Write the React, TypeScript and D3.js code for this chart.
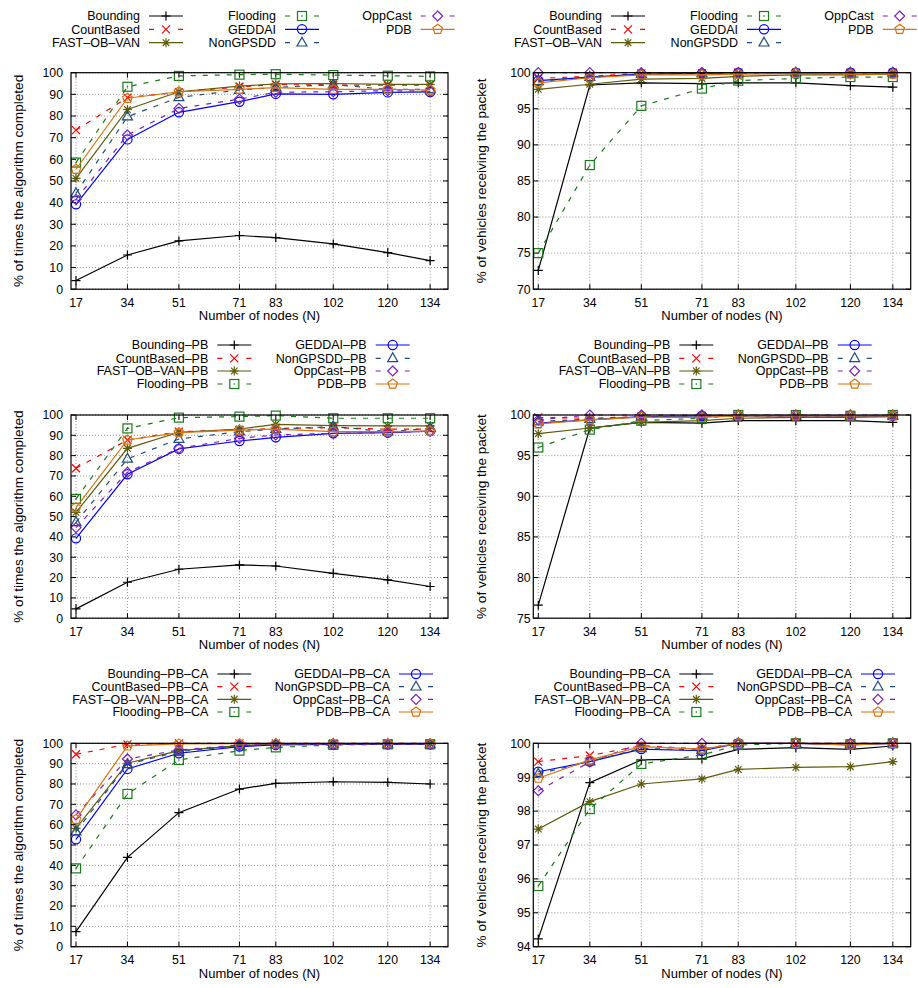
import React from "react";
import * as d3 from "d3";

const NODES = [17, 34, 51, 71, 83, 102, 120, 134];
const BASE_NAMES = ["Bounding", "CountBased", "FAST–OB–VAN", "Flooding", "GEDDAI", "NonGPSDD", "OppCast", "PDB"];
const SUFFIXES = ["", "–PB", "–PB–CA"];
const COLORS = ["#000000", "#ff0000", "#5c5c0a", "#1b7a1b", "#0000ff", "#1d4e7a", "#7a1fbf", "#d9730d"];
const DASHED = [false, true, false, true, false, true, true, false];
const MARKERS = ["plus", "cross", "star", "square", "circle", "triangle", "diamond", "pentagon"];

const Y_TICKS_COMPLETED = [0, 10, 20, 30, 40, 50, 60, 70, 80, 90, 100];
const Y_TICKS_RECV_BASE = [70, 75, 80, 85, 90, 95, 100];
const Y_TICKS_RECV_PB = [75, 80, 85, 90, 95, 100];
const Y_TICKS_RECV_PBCA = [94, 95, 96, 97, 98, 99, 100];

const completedBase = [
  [4.0, 15.8, 22.3, 24.8, 23.8, 20.9, 16.9, 13.2],
  [73.5, 88.5, 91.0, 93.5, 94.5, 94.3, 94.2, 94.3],
  [51.2, 83.0, 91.2, 93.8, 94.8, 95.0, 94.6, 94.6],
  [58.5, 93.5, 98.5, 99.1, 99.3, 98.9, 98.6, 98.3],
  [39.2, 69.2, 81.7, 86.6, 90.2, 90.0, 90.9, 91.1],
  [44.3, 79.7, 88.6, 92.0, 93.2, 94.5, 92.3, 92.3],
  [41.5, 71.2, 83.5, 87.8, 91.0, 91.2, 91.7, 91.5],
  [55.4, 88.2, 91.2, 92.3, 93.1, 92.3, 92.3, 92.0],
];
const receivedBase = [
  [72.6, 98.3, 98.6, 98.5, 98.6, 98.6, 98.2, 98.0],
  [99.2, 99.5, 99.9, 99.9, 100, 100, 100, 100],
  [97.7, 98.4, 99.1, 99.2, 99.5, 99.7, 99.7, 99.8],
  [75.0, 87.2, 95.4, 97.8, 98.9, 99.2, 99.4, 99.4],
  [98.9, 99.4, 99.8, 99.9, 100, 100, 100, 100],
  [98.8, 99.4, 99.8, 99.9, 99.9, 100, 100, 100],
  [100, 100, 100, 100, 100, 100, 100, 100],
  [98.6, 99.3, 99.7, 99.7, 99.8, 99.9, 99.8, 99.8],
];
const completedPB = [
  [4.6, 17.7, 24.1, 26.2, 25.7, 22.1, 18.9, 15.6],
  [73.8, 87.7, 91.8, 92.6, 93.4, 93.8, 93.0, 93.0],
  [52.1, 83.6, 91.5, 93.1, 95.4, 94.8, 94.6, 94.6],
  [58.7, 93.4, 98.7, 99.2, 99.7, 98.4, 98.4, 98.4],
  [39.3, 70.8, 83.3, 87.2, 89.0, 91.0, 91.3, 92.1],
  [47.2, 78.4, 88.2, 91.8, 93.0, 94.3, 91.8, 93.4],
  [44.6, 71.8, 83.6, 88.5, 90.2, 91.0, 91.3, 92.1],
  [54.4, 87.7, 91.3, 92.6, 93.0, 91.8, 91.8, 92.1],
];
const receivedPB = [
  [76.6, 98.4, 99.1, 99.0, 99.3, 99.3, 99.3, 99.1],
  [99.7, 99.6, 99.8, 99.9, 99.9, 99.9, 99.9, 99.9],
  [97.7, 98.4, 99.1, 99.3, 99.6, 99.7, 99.7, 99.8],
  [96.0, 98.2, 99.3, 99.6, 100, 100, 99.9, 100],
  [99.0, 99.4, 99.8, 99.9, 99.9, 99.9, 99.9, 99.9],
  [99.2, 99.5, 99.8, 99.9, 99.9, 99.9, 99.9, 99.9],
  [99.4, 100, 100, 100, 100, 100, 100, 100],
  [98.9, 99.4, 99.75, 99.7, 99.9, 99.9, 99.9, 99.9],
];
const completedPBCA = [
  [7.4, 43.9, 65.9, 77.5, 80.3, 81.1, 80.8, 80.0],
  [94.6, 99.5, 100, 100, 100, 100, 100, 100],
  [58.2, 90.2, 96.4, 98.9, 99.7, 99.8, 99.8, 99.8],
  [38.5, 75.1, 91.8, 96.4, 98.0, 99.2, 99.5, 99.5],
  [52.8, 87.4, 95.1, 98.4, 99.2, 99.5, 99.5, 99.5],
  [56.6, 89.7, 95.9, 98.9, 99.5, 99.5, 99.5, 99.5],
  [64.8, 92.3, 96.7, 99.2, 99.7, 99.7, 99.7, 99.7],
  [62.6, 98.7, 99.7, 99.8, 99.8, 99.8, 99.8, 99.8],
];
const receivedPBCA = [
  [94.23, 98.84, 99.51, 99.54, 99.82, 99.87, 99.82, 99.92],
  [99.46, 99.64, 99.93, 99.83, 100, 100, 100, 100],
  [97.47, 98.28, 98.8, 98.95, 99.23, 99.29, 99.31, 99.46],
  [95.79, 98.06, 99.39, 99.66, 99.95, 100, 99.97, 100],
  [99.16, 99.46, 99.83, 99.78, 100, 100, 99.95, 100],
  [99.1, 99.46, 99.85, 99.8, 100, 100, 99.97, 100],
  [98.6, 99.45, 100, 100, 100, 100, 100, 100],
  [98.97, 99.51, 99.9, 99.83, 100, 100, 99.95, 100],
];

const FONT = "'Liberation Sans', Arial, Helvetica, sans-serif";
const X_TITLE = "Number of nodes (N)";
const Y_TITLE_LEFT = "% of times the algorithm completed";
const Y_TITLE_RIGHT = "% of vehicles receiving the packet";

const ROWS = [
  { top: 72.7, bottom: 289.2, legendCols: [140, 276, 411.7], legendRows: [16, 29.3, 42.7] },
  { top: 415, bottom: 618.2, legendCols: [208.3, 366.7], legendRows: [345, 358.3, 371, 384] },
  { top: 743.3, bottom: 946.7, legendCols: [208.3, 390], legendRows: [674, 686.7, 699.3, 712] },
];
const COLS = [
  { x0: 71, x1: 448, labelGap: 8, titleX: 18.5, legendShift: 0 },
  { x0: 533.3, x1: 910.7, labelGap: 2.6, titleX: 481, legendShift: 462 },
];

function Marker({ type, x, y, color }: { type: string; x: number; y: number; color: string }) {
  const common = { stroke: color, strokeWidth: 1.2, fill: "none" };
  const s = 4.5;
  switch (type) {
    case "plus":
      return <path d={`M${x - s},${y}H${x + s}M${x},${y - s}V${y + s}`} {...common} />;
    case "cross":
      return <path d={`M${x - 4},${y - 4}L${x + 4},${y + 4}M${x + 4},${y - 4}L${x - 4},${y + 4}`} {...common} />;
    case "star":
      return (
        <path
          d={`M${x - s},${y}H${x + s}M${x},${y - s}V${y + s}M${x - 3.3},${y - 3.3}L${x + 3.3},${y + 3.3}M${x + 3.3},${y - 3.3}L${x - 3.3},${y + 3.3}`}
          {...common}
        />
      );
    case "square":
      return (
        <g>
          <rect x={x - s} y={y - s} width={2 * s} height={2 * s} {...common} />
          <circle cx={x} cy={y} r={0.8} fill={color} />
        </g>
      );
    case "circle":
      return <circle cx={x} cy={y} r={4.6} {...common} />;
    case "triangle":
      return <path d={`M${x},${y - 5.5}L${x + 5},${y + 3.3}L${x - 5},${y + 3.3}Z`} {...common} />;
    case "diamond":
      return <path d={`M${x},${y - 5}L${x + 5},${y}L${x},${y + 5}L${x - 5},${y}Z`} {...common} />;
    case "pentagon": {
      const pts = d3.range(5).map((k) => {
        const a = (-90 + 72 * k) * (Math.PI / 180);
        return `${x + 5 * Math.cos(a)},${y + 5 * Math.sin(a)}`;
      });
      return <path d={`M${pts.join("L")}Z`} {...common} />;
    }
    default:
      return null;
  }
}

function Panel({ data, rowIdx, colIdx, yTicks, yTitle, suffix }: any) {
  const row = ROWS[rowIdx];
  const col = COLS[colIdx];
  const x = d3.scaleLinear().domain([15.35, 139.9]).range([col.x0, col.x1]);
  const y = d3.scaleLinear().domain([yTicks[0], yTicks[yTicks.length - 1]]).range([row.bottom, row.top]);
  const line = d3
    .line<number>()
    .x((_, i) => x(NODES[i]))
    .y((d) => y(d));
  const tick = 5;
  const midY = (row.top + row.bottom) / 2;
  const nPerCol = row.legendRows.length;

  return (
    <g>
      {NODES.map((n) => (
        <line key={"gx" + n} x1={x(n)} x2={x(n)} y1={row.top} y2={row.bottom} stroke="#8a8a8a" strokeWidth={0.9} strokeDasharray="1,2" />
      ))}
      {yTicks.map((t: number) => (
        <line key={"gy" + t} x1={col.x0} x2={col.x1} y1={y(t)} y2={y(t)} stroke="#8a8a8a" strokeWidth={0.9} strokeDasharray="1,2" />
      ))}
      {NODES.map((n) => (
        <g key={"tx" + n}>
          <line x1={x(n)} x2={x(n)} y1={row.bottom} y2={row.bottom - tick} stroke="#000" strokeWidth={1} />
          <line x1={x(n)} x2={x(n)} y1={row.top} y2={row.top + tick} stroke="#000" strokeWidth={1} />
          <text x={x(n)} y={row.bottom + 17.5} textAnchor="middle" fontSize={12.3} fontFamily={FONT}>
            {n}
          </text>
        </g>
      ))}
      {yTicks.map((t: number) => (
        <g key={"ty" + t}>
          <line x1={col.x0} x2={col.x0 + tick} y1={y(t)} y2={y(t)} stroke="#000" strokeWidth={1} />
          <line x1={col.x1} x2={col.x1 - tick} y1={y(t)} y2={y(t)} stroke="#000" strokeWidth={1} />
          <text x={col.x0 - col.labelGap} y={y(t)} dy="0.35em" textAnchor="end" fontSize={12.3} fontFamily={FONT}>
            {t}
          </text>
        </g>
      ))}
      {data.map((vals: number[], si: number) => (
        <g key={"s" + si}>
          <path
            d={line(vals) || ""}
            fill="none"
            stroke={COLORS[si]}
            strokeWidth={1.2}
            strokeDasharray={DASHED[si] ? "5,7" : undefined}
          />
          {vals.map((v, i) => (
            <Marker key={i} type={MARKERS[si]} x={x(NODES[i])} y={y(v)} color={COLORS[si]} />
          ))}
        </g>
      ))}
      <rect x={col.x0} y={row.top} width={col.x1 - col.x0} height={row.bottom - row.top} fill="none" stroke="#000" strokeWidth={1.2} />
      <text x={(col.x0 + col.x1) / 2} y={row.bottom + 31} textAnchor="middle" fontSize={13} fontFamily={FONT}>
        {X_TITLE}
      </text>
      <text
        transform={`translate(${col.titleX},${midY}) rotate(-90)`}
        dy="0.35em"
        textAnchor="middle"
        fontSize={13.6}
        fontFamily={FONT}
      >
        {yTitle}
      </text>
      {BASE_NAMES.map((name, si) => {
        const c = Math.floor(si / nPerCol);
        const r = si % nPerCol;
        const tx = row.legendCols[c] + col.legendShift;
        const ly = row.legendRows[r];
        const sx0 = tx + 9;
        const sx1 = sx0 + 34;
        return (
          <g key={"lg" + si}>
            <text x={tx} y={ly} dy="0.35em" textAnchor="end" fontSize={12.5} fontFamily={FONT}>
              {name + suffix}
            </text>
            {DASHED[si] ? (
              <path d={`M${sx0},${ly}H${sx0 + 5}M${sx1 - 5},${ly}H${sx1}`} stroke={COLORS[si]} strokeWidth={1.2} />
            ) : (
              <line x1={sx0} x2={sx1} y1={ly} y2={ly} stroke={COLORS[si]} strokeWidth={1.2} />
            )}
            <Marker type={MARKERS[si]} x={(sx0 + sx1) / 2} y={ly} color={COLORS[si]} />
          </g>
        );
      })}
    </g>
  );
}

export default function App() {
  return (
    <svg width={918} height={988} style={{ position: "absolute", left: 0, top: 0, background: "#fff" }}>
      <rect width={918} height={988} fill="#fff" />
      <Panel data={completedBase} rowIdx={0} colIdx={0} yTicks={Y_TICKS_COMPLETED} yTitle={Y_TITLE_LEFT} suffix={SUFFIXES[0]} />
      <Panel data={receivedBase} rowIdx={0} colIdx={1} yTicks={Y_TICKS_RECV_BASE} yTitle={Y_TITLE_RIGHT} suffix={SUFFIXES[0]} />
      <Panel data={completedPB} rowIdx={1} colIdx={0} yTicks={Y_TICKS_COMPLETED} yTitle={Y_TITLE_LEFT} suffix={SUFFIXES[1]} />
      <Panel data={receivedPB} rowIdx={1} colIdx={1} yTicks={Y_TICKS_RECV_PB} yTitle={Y_TITLE_RIGHT} suffix={SUFFIXES[1]} />
      <Panel data={completedPBCA} rowIdx={2} colIdx={0} yTicks={Y_TICKS_COMPLETED} yTitle={Y_TITLE_LEFT} suffix={SUFFIXES[2]} />
      <Panel data={receivedPBCA} rowIdx={2} colIdx={1} yTicks={Y_TICKS_RECV_PBCA} yTitle={Y_TITLE_RIGHT} suffix={SUFFIXES[2]} />
    </svg>
  );
}
